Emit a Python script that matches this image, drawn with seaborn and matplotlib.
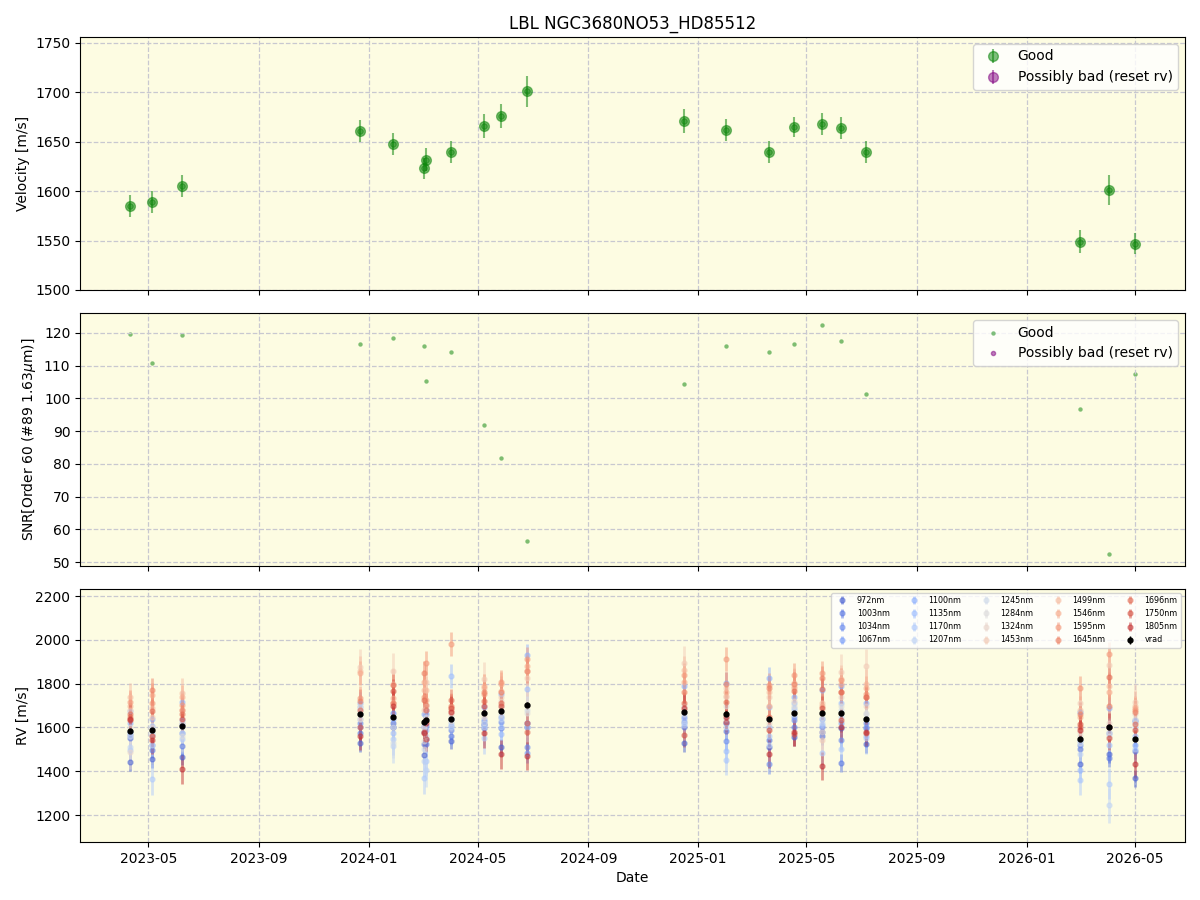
import numpy as np
import pandas as pd
import matplotlib
matplotlib.use("Agg")
import matplotlib.pyplot as plt
import matplotlib.dates as mdates
import seaborn as sns

plt.rcParams['font.family'] = ['DejaVu Sans']

dates = ["2023-04-11", "2023-05-05", "2023-06-08", "2023-12-22", "2024-01-28",
         "2024-03-02", "2024-03-05", "2024-04-01", "2024-05-08", "2024-05-27",
         "2024-06-25", "2024-12-16", "2025-02-01", "2025-03-21", "2025-04-17",
         "2025-05-19", "2025-06-09", "2025-07-06", "2026-03-01", "2026-04-02",
         "2026-05-01"]
velocity = [1585, 1589, 1605, 1661, 1648, 1623, 1632, 1640, 1666, 1676, 1701,
            1671, 1662, 1640, 1665, 1668, 1664, 1640, 1549, 1601, 1547]
velocity_err = [11, 11.5, 11, 11, 11, 11, 12, 11, 12, 12, 16,
                12, 11, 11, 10, 11, 11, 11, 12, 15, 11]
snr = [119.7, 110.8, 119.4, 116.6, 118.5, 116.0, 105.3, 114.2, 91.9, 81.8, 56.4,
       104.4, 116.0, 114.2, 116.6, 122.4, 117.5, 101.3, 96.7, 52.4, 107.5]

wavelengths = ["972nm", "1003nm", "1034nm", "1067nm", "1100nm", "1135nm", "1170nm",
               "1207nm", "1245nm", "1284nm", "1324nm", "1453nm", "1499nm", "1546nm",
               "1595nm", "1645nm", "1696nm", "1750nm", "1805nm"]

rv_972 = [1442, 1456, 1467, 1530, 1600, 1474, 1546, 1540, 1616, 1509, 1600, 1530, 1619, 1509, 1555, 1581, 1596, 1524, 1434, 1479, 1368]
rv_1003 = [1551, 1497, 1516, 1573, 1619, 1524, 1524, 1561, 1596, 1596, 1619, 1603, 1585, 1543, 1600, 1560, 1439, 1596, 1500, 1459, 1494]
rv_1034 = [1565, 1520, 1575, 1619, 1664, 1580, 1606, 1588, 1630, 1627, 1512, 1627, 1540, 1434, 1634, 1600, 1543, 1619, 1520, 1573, 1630]
rv_1067 = [1580, 1565, 1616, 1603, 1600, 1600, 1660, 1606, 1610, 1650, 1482, 1650, 1627, 1600, 1650, 1640, 1620, 1600, 1672, 1600, 1520]
rv_1100 = [1620, 1640, 1718, 1710, 1640, 1660, 1680, 1640, 1695, 1753, 1931, 1790, 1804, 1824, 1740, 1770, 1790, 1713, 1540, 1688, 1634]
rv_1135 = [1676, 1606, 1634, 1695, 1573, 1606, 1590, 1835, 1640, 1570, 1774, 1640, 1493, 1695, 1710, 1611, 1710, 1560, 1406, 1520, 1560]
rv_1170 = [1497, 1363, 1548, 1640, 1546, 1368, 1448, 1620, 1550, 1600, 1603, 1610, 1452, 1560, 1690, 1482, 1504, 1550, 1361, 1344, 1500]
rv_1207 = [1510, 1520, 1575, 1680, 1516, 1448, 1406, 1600, 1600, 1640, 1620, 1620, 1600, 1520, 1680, 1620, 1650, 1640, 1480, 1245, 1600]
rv_1245 = [1560, 1580, 1600, 1660, 1530, 1500, 1560, 1650, 1620, 1660, 1680, 1660, 1640, 1600, 1660, 1641, 1680, 1660, 1530, 1560, 1620]
rv_1284 = [1600, 1600, 1560, 1700, 1600, 1540, 1650, 1630, 1660, 1700, 1664, 1700, 1700, 1640, 1700, 1660, 1700, 1667, 1560, 1580, 1640]
rv_1324 = [1490, 1560, 1620, 1640, 1650, 1600, 1700, 1660, 1650, 1720, 1700, 1680, 1740, 1620, 1720, 1580, 1740, 1700, 1580, 1620, 1660]
rv_1453 = [1680, 1650, 1680, 1877, 1858, 1680, 1809, 1672, 1820, 1740, 1824, 1893, 1778, 1740, 1790, 1543, 1855, 1880, 1713, 1885, 1718]
rv_1499 = [1740, 1690, 1759, 1860, 1800, 1771, 1771, 1693, 1780, 1768, 1859, 1863, 1744, 1760, 1804, 1710, 1820, 1800, 1680, 1790, 1700]
rv_1546 = [1700, 1748, 1740, 1847, 1733, 1809, 1725, 1680, 1790, 1800, 1880, 1809, 1760, 1700, 1780, 1700, 1800, 1781, 1649, 1764, 1690]
rv_1595 = [1716, 1713, 1703, 1733, 1710, 1740, 1893, 1981, 1753, 1806, 1911, 1840, 1911, 1794, 1840, 1847, 1817, 1755, 1779, 1935, 1680]
rv_1645 = [1650, 1771, 1680, 1720, 1710, 1847, 1703, 1700, 1760, 1760, 1860, 1764, 1800, 1780, 1800, 1824, 1760, 1740, 1660, 1700, 1670]
rv_1696 = [1660, 1676, 1662, 1680, 1794, 1725, 1680, 1725, 1721, 1713, 1581, 1710, 1718, 1650, 1768, 1774, 1764, 1740, 1600, 1829, 1616]
rv_1750 = [1634, 1560, 1640, 1600, 1768, 1580, 1546, 1690, 1700, 1700, 1620, 1565, 1627, 1588, 1570, 1690, 1634, 1573, 1616, 1550, 1589]
rv_1805 = [1640, 1543, 1409, 1561, 1700, 1573, 1620, 1672, 1573, 1477, 1470, 1690, 1650, 1479, 1580, 1424, 1600, 1580, 1589, 1600, 1434]

rv_err = [40, 40, 45, 45, 50, 55, 70, 80, 70, 70, 80, 80, 65, 55, 55, 55, 50, 55, 65]

rv_series = [rv_972, rv_1003, rv_1034, rv_1067, rv_1100, rv_1135, rv_1170, rv_1207,
             rv_1245, rv_1284, rv_1324, rv_1453, rv_1499, rv_1546, rv_1595, rv_1645,
             rv_1696, rv_1750, rv_1805]

t = pd.to_datetime(dates)
df = pd.DataFrame({"date": t, "velocity": velocity, "err": velocity_err, "snr": snr})

fig, axes = plt.subplots(3, 1, figsize=(12, 9), dpi=100, sharex=True)
fig.subplots_adjust(left=0.0667, right=0.9875, top=0.9589, bottom=0.0644, hspace=0.091)
bg = "#fdfce2"
green = "green"
purple = "purple"

# Top panel
ax = axes[0]
ax.errorbar(df["date"], df["velocity"], yerr=df["err"], fmt="o", color=green,
            alpha=0.5, markersize=7, elinewidth=1.5, label="Good")
ax.errorbar([], [], yerr=[], fmt="o", color=purple, alpha=0.5, markersize=7,
            label="Possibly bad (reset rv)")
ax.plot(df["date"], df["velocity"], "o", color=green, alpha=0.4, markersize=4)
ax.set_ylim(1500, 1756)
ax.set_ylabel("Velocity [m/s]")
ax.set_title("LBL NGC3680NO53_HD85512")
ax.legend(loc="upper right", fontsize=10)

# Middle panel
ax = axes[1]
sns.scatterplot(data=df, x="date", y="snr", ax=ax, color=green, alpha=0.5, s=10,
                edgecolor=green, linewidth=0, label="Good")
ax.plot([], [], "o", color=purple, alpha=0.5, markersize=3, label="Possibly bad (reset rv)")
ax.set_ylim(48.8, 126.1)
ax.set_ylabel(r"SNR[Order 60 (#89 1.63$\mu$m)]")
ax.set_xlabel("")
ax.legend(loc="upper right", fontsize=10)

# Bottom panel
ax = axes[2]
cols = sns.color_palette("coolwarm", len(wavelengths))
for name, vals, err, c in zip(wavelengths, rv_series, rv_err, cols):
    ax.errorbar(t, vals, yerr=err, fmt="o", color=c, alpha=0.5, markersize=3.5,
                elinewidth=2, label=name)
ax.errorbar(t, velocity, yerr=velocity_err, fmt="o", color="black", markersize=3.5,
            elinewidth=1, label="vrad")
ax.set_ylim(1077, 2232)
ax.set_ylabel("RV [m/s]")
ax.set_xlabel("Date")
ax.legend(loc="upper right", ncol=5, fontsize=5.8)

for ax in axes:
    ax.set_facecolor(bg)
    ax.grid(True, linestyle="--", color="#c8c8d0", linewidth=0.9)
    ax.xaxis.set_major_locator(mdates.MonthLocator(bymonth=[1, 5, 9]))
    ax.xaxis.set_major_formatter(mdates.DateFormatter("%Y-%m"))

fig.savefig("out.png", dpi=100)
